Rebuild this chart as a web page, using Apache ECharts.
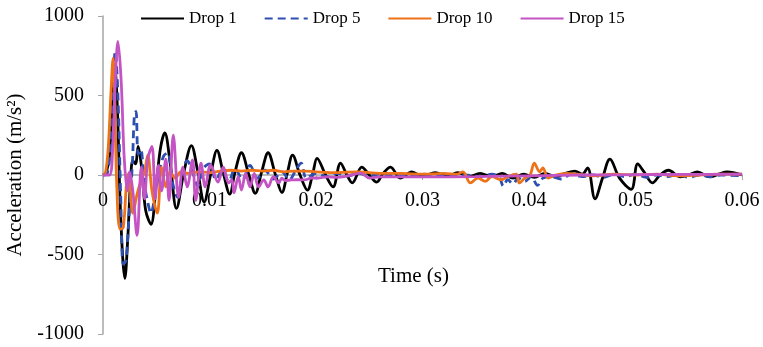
<!DOCTYPE html>
<html>
<head>
<meta charset="utf-8">
<script src="https://cdn.jsdelivr.net/npm/echarts@6/dist/echarts.min.js"></script>
<style>
  html, body { margin: 0; padding: 0; background: #fff; }
  #chart { width: 763px; height: 347px; }
</style>
</head>
<body>
<div id="chart"></div>
<script>
// time in ms, acceleration in m/s2
const drop1 = [[0,0],[0.3,15],[0.6,120],[0.85,420],[1.1,690],[1.35,420],[1.6,-150],[1.85,-520],[2.05,-650],[2.3,-430],[2.6,-20],[2.8,90],[3.05,70],[3.3,180],[3.6,60],[4.0,-220],[4.5,-310],[5.0,-60],[5.4,170],[5.8,265],[6.3,80],[6.9,-210],[7.6,20],[8.3,185],[8.9,20],[9.5,-170],[10.1,0],[10.7,155],[11.3,10],[11.9,-120],[12.4,20],[13.0,140],[13.7,0],[14.3,-115],[14.9,20],[15.5,140],[16.2,0],[16.8,-110],[17.3,10],[17.8,125],[18.5,0],[19.2,-95],[19.7,10],[20.1,105],[20.9,0],[21.6,-75],[22.3,75],[22.9,0],[23.4,-50],[24.3,50],[25.0,0],[25.7,-45],[26.3,10],[27.0,50],[27.9,-20],[29.0,20],[30.0,-10],[31.2,15],[32.3,-10],[33.3,15],[34.4,-10],[35.4,10],[36.5,-10],[37.5,10],[38.5,-20],[39.5,5],[40.5,-15],[41.5,10],[42.5,-10],[43.4,10],[44.3,25],[45.0,5],[45.5,45],[46.2,-150],[46.9,-20],[47.6,100],[48.5,-20],[49.6,-90],[50.2,70],[50.8,20],[51.6,-50],[52.3,0],[53.1,30],[54.2,-12],[55.0,0],[55.8,19],[57.0,-12],[57.8,5],[58.6,19],[60,0]];

const drop5 = [[0,0],[0.4,10],[0.7,180],[0.95,600],[1.15,780],[1.4,500],[1.65,-100],[1.9,-560],[2.15,-540],[2.45,-250],[2.75,60],[2.95,380],[3.1,400],[3.3,130],[3.55,160],[3.85,-40],[4.2,-170],[4.5,-240],[4.9,-120],[5.3,20],[5.7,120],[6.1,140],[6.5,-40],[7.0,-140],[7.5,30],[7.9,90],[8.4,20],[8.9,-70],[9.4,40],[10.0,70],[10.6,-30],[11.2,30],[11.8,-40],[12.4,40],[13.1,-30],[13.8,60],[14.5,-20],[15.2,30],[16.0,-25],[16.8,20],[17.5,-30],[18.1,30],[18.6,75],[19.1,-20],[20.0,10],[21.0,-10],[22.0,10],[23.0,-5],[24.0,10],[25.0,-5],[26.0,5],[28.0,-5],[30.0,5],[32.0,-5],[34.0,0],[35.5,-10],[36.5,5],[37.2,-15],[37.6,-70],[38.0,-30],[38.5,-55],[39.0,-20],[39.6,-40],[40.2,-10],[40.8,-65],[41.3,-20],[42.0,-10],[43.0,-25],[44.0,5],[45.0,-10],[46.0,0],[47.0,-15],[48.0,5],[49.0,-10],[50.0,5],[51.0,-15],[52.0,0],[53.0,-10],[54.0,5],[55.0,-15],[56.0,0],[57.0,-10],[58.0,0],[60.0,-5]];

const drop10 = [[0,0],[0.25,20],[0.5,180],[0.75,520],[0.95,735],[1.1,500],[1.3,-80],[1.6,-340],[1.9,-330],[2.2,-60],[2.4,10],[2.8,-240],[3.2,-120],[3.6,-30],[3.9,20],[4.2,125],[4.6,-100],[5.1,-240],[5.5,50],[5.9,-75],[6.3,20],[6.8,-20],[7.3,20],[8,10],[9,20],[10,15],[11,25],[12,30],[13,25],[14,30],[15,25],[16,30],[17,20],[18,25],[19,25],[20,20],[22,15],[24,20],[26,10],[28,10],[30,5],[32,10],[33.2,5],[33.8,20],[34.5,-50],[35.2,-20],[35.9,-40],[36.5,-10],[37.4,-30],[38.0,-10],[38.8,5],[39.1,-50],[39.6,-20],[40.1,0],[40.5,75],[41.0,20],[41.3,45],[41.8,-19],[42.5,0],[43.5,10],[44.5,5],[46,-5],[48,5],[50,0],[52,5],[54,-5],[56,0],[58,5],[60,5]];

const drop15 = [[0,0],[0.6,0],[0.9,150],[1.1,500],[1.4,840],[1.7,600],[2.0,100],[2.3,-100],[2.5,20],[2.8,-100],[3.2,-380],[3.6,50],[3.9,-150],[4.2,100],[4.6,180],[4.9,-150],[5.2,60],[5.5,-100],[5.9,100],[6.2,-160],[6.6,250],[7.1,-140],[7.5,50],[7.9,-75],[8.4,95],[8.7,-160],[9.2,75],[9.6,-75],[10.1,63],[10.8,-45],[11.3,50],[11.8,-50],[12.1,-30],[12.3,-113],[12.7,-10],[13.0,-95],[13.4,10],[13.8,-75],[14.2,10],[14.6,-75],[15.1,-31],[15.5,-75],[16.0,-10],[16.5,-50],[16.8,-20],[17.1,-35],[17.7,-31],[18.3,-30],[18.9,-31],[19.6,-19],[20.2,-19],[21,-12],[22,-15],[23,-5],[24.2,12],[25,-19],[26,-12],[30,-12],[35,-10],[40,-5],[45,0],[50,2],[55,4],[60,5]];

const seriesNames = ['Drop 1', 'Drop 5', 'Drop 10', 'Drop 15'];
const seriesColors = ['#000000', '#2e4fb0', '#ee7218', '#c453c3'];
const xTicks = [0, 0.01, 0.02, 0.03, 0.04, 0.05, 0.06];
const yTicks = [-1000, -500, 0, 500, 1000];

const font = '"Liberation Serif", "Times New Roman", serif';
const allData = [drop1, drop5, drop10, drop15];

const series = allData.map(function (d, i) {
    return {
        name: seriesNames[i],
        type: 'line',
        symbol: 'none',
        smooth: 0.35,
        data: d.map(function (p) { return [p[0] / 1000, p[1]]; }),
        lineStyle: {
            color: seriesColors[i],
            width: 2.8,
            type: i === 1 ? [8, 5] : 'solid'
        },
        itemStyle: { color: seriesColors[i] }
    };
});

const chart = echarts.init(document.getElementById('chart'));
chart.setOption({
    backgroundColor: '#fff',
    animation: false,
    legend: {
        top: 5,
        left: 135,
        itemWidth: 43,
        itemGap: 27,
        itemStyle: { opacity: 0 },
        textStyle: { fontFamily: font, fontSize: 17, color: '#000' },
        data: seriesNames
    },
    grid: { left: 103, right: 21, top: 16, bottom: 13, outerBoundsMode: 'none', containLabel: false },
    xAxis: {
        type: 'value',
        min: xTicks[0],
        max: xTicks[xTicks.length - 1],
        interval: 0.01,
        // x axis sits at y = 0, half way up the plot (plot height 318)
        offset: -159,
        name: 'Time (s)',
        nameLocation: 'middle',
        nameGap: 91,
        nameTextStyle: { fontFamily: font, fontSize: 21, color: '#000', padding: [0, 18, 0, 0] },
        axisLine: { onZero: false, lineStyle: { color: '#a6a6a6', width: 1.5 } },
        axisTick: { show: true, length: 5, lineStyle: { color: '#a6a6a6' } },
        axisLabel: {
            fontFamily: font, fontSize: 20, color: '#000', margin: 16,
            formatter: function (v) { return v === 0 ? '0' : v.toFixed(2); }
        },
        splitLine: { show: false }
    },
    yAxis: {
        type: 'value',
        min: yTicks[0],
        max: yTicks[yTicks.length - 1],
        interval: 500,
        name: 'Acceleration (m/s\u00b2)',
        nameLocation: 'middle',
        nameGap: 72,
        nameTextStyle: { fontFamily: font, fontSize: 21, color: '#000' },
        axisLine: { show: true, lineStyle: { color: '#a6a6a6', width: 1.5 } },
        axisTick: { show: true, length: 5, lineStyle: { color: '#a6a6a6' } },
        axisLabel: {
            fontFamily: font, fontSize: 20, color: '#000', margin: 19,
            formatter: function (v) { return String(v); }
        },
        splitLine: { show: false }
    },
    series: series
});
</script>
</body>
</html>
